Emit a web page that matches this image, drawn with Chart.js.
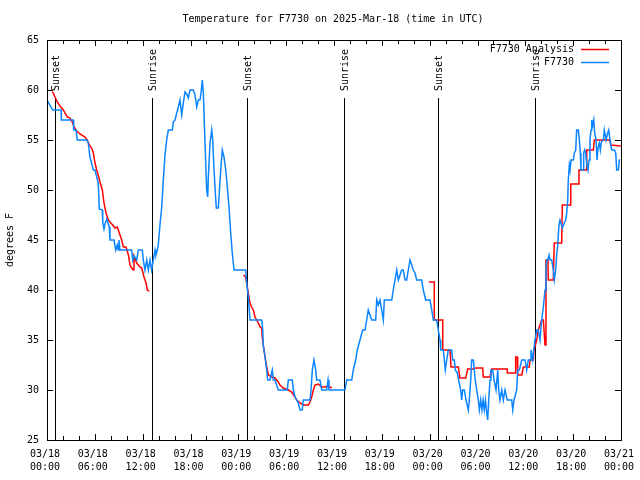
<!DOCTYPE html>
<html>
<head>
<meta charset="utf-8">
<script src="https://cdn.jsdelivr.net/npm/chart.js@4"></script>
<style>
  body { margin: 0; background: #fff; }
  canvas { display: block; }
</style>
</head>
<body>
<canvas id="tempChart" width="640" height="480"></canvas>
<script>
// hours after 03/18 00:00 UTC
const stationHours = [
  0, 0.71, 1.76, 1.8, 3.30, 3.35, 3.64, 3.80, 4.98, 5.18, 5.39, 5.81, 6.02, 6.43, 6.56, 6.94, 6.99, 7.15, 7.28, 7.49,
  7.81, 7.90, 8.40, 8.62, 8.82, 8.94, 9.03, 9.16, 10.62, 10.75, 10.91, 11.25, 11.45, 11.95, 12.08, 12.29, 12.51, 12.71, 12.92, 13.13,
  13.33, 13.55, 13.67, 13.84, 13.96, 14.17, 14.39, 14.59, 14.80, 15.01, 15.22, 15.72, 15.84, 16.06, 16.27, 16.47, 16.68, 16.90, 17.10, 17.31,
  17.52, 17.72, 17.94, 18.35, 18.56, 18.78, 18.98, 19.19, 19.32, 19.48, 19.61, 19.73, 19.91, 20.03, 20.16, 20.23, 20.45, 20.66, 20.79, 20.91,
  21.07, 21.24, 21.49, 21.61, 21.79, 21.99, 22.20, 22.42, 22.62, 22.83, 23.04, 23.24, 23.46, 24.92, 25.05, 25.25, 25.46, 26.93, 27.06, 27.13,
  27.35, 27.56, 27.68, 27.97, 28.26, 28.39, 28.60, 29.01, 30.14, 30.27, 30.77, 30.90, 31.11, 31.52, 31.74, 32.02, 32.15, 32.99, 33.12, 33.28,
  33.49, 33.71, 33.83, 34.24, 34.46, 35.09, 35.25, 35.37, 37.38, 37.59, 38.22, 38.42, 38.72, 38.92, 39.26, 39.60, 39.89, 40.10, 40.30, 40.73,
  41.23, 41.36, 41.56, 41.77, 41.98, 42.19, 42.31, 43.24, 43.44, 43.65, 43.87, 44.07, 44.49, 44.69, 44.91, 45.12, 45.32, 45.53, 45.75, 45.95,
  46.16, 46.37, 47.00, 47.20, 47.50, 48.04, 48.26, 48.46, 48.88, 49.08, 49.30, 49.39, 49.71, 49.84, 49.96, 50.14, 50.34, 50.76, 50.89, 51.09,
  51.22, 51.47, 51.64, 51.89, 52.02, 52.14, 52.35, 52.56, 52.85, 52.97, 53.15, 53.27, 53.47, 53.60, 53.72, 53.90, 54.10, 54.23, 54.40, 54.55,
  54.70, 54.85, 55.00, 55.16, 55.28, 55.41, 55.57, 55.69, 55.91, 56.07, 56.32, 56.54, 56.66, 56.82, 57.04, 57.24, 57.45, 57.74, 58.29, 58.42,
  58.58, 58.92, 59.04, 59.25, 59.55, 59.96, 60.17, 60.37, 60.59, 60.71, 60.93, 61.05, 61.21, 61.43, 61.63, 61.84, 62.05, 62.26, 62.47, 62.59,
  62.68, 62.81, 62.97, 63.10, 63.31, 63.51, 63.63, 63.81, 63.93, 64.06, 64.22, 64.35, 64.64, 64.89, 65.06, 65.19, 65.32, 65.39, 65.52, 65.61,
  65.73, 66.02, 66.15, 66.32, 66.44, 66.65, 66.77, 66.90, 66.98, 67.24, 67.32, 67.45, 67.57, 67.70, 67.86, 67.99, 68.11, 68.24, 68.33, 68.45,
  68.58, 68.70, 68.87, 68.99, 69.12, 69.28, 69.41, 69.53, 69.78, 69.91, 70.12, 70.33, 70.46, 70.62, 70.84, 71.17, 71.34, 71.46, 71.67, 71.79,
  71.88
];
const stationTemps = [
  59, 58, 58, 57, 57, 56, 56, 55, 55, 54.7, 53.3, 52, 52, 50.7, 48.1, 48, 46.8, 46.1, 46.6, 47.1,
  46.3, 45, 45, 44, 44.5, 44, 45, 44, 44, 43, 43.4, 43, 44, 44, 43, 42, 43, 42, 43, 42,
  43, 44, 43.5, 44, 44.5, 46.5, 48.3, 51, 53.5, 55, 56, 56, 56.8, 57, 57.7, 58.3, 59, 57.5, 58.7, 59.8,
  59.6, 59.2, 60, 60, 59.5, 58.3, 59, 59, 59.7, 61, 59.7, 56.8, 52.7, 50, 49.3, 51.2, 54.7, 56, 55, 52.7,
  50.3, 48.2, 48.2, 49.7, 52, 54, 53.3, 52, 50.3, 48.3, 45.7, 43.7, 42, 42, 40.7, 39.3, 37, 37, 36, 34.5,
  33.3, 32, 31, 31, 32, 31, 31, 30, 30, 31, 31, 30, 29.3, 28.7, 28, 28, 29, 29, 30, 32,
  33, 32, 31, 31, 30, 30, 31, 30, 30, 31, 31, 32, 33, 34, 35, 36, 36, 37, 38, 37,
  37, 39, 38.5, 39, 38, 37, 39, 39, 40, 41, 42, 41, 42, 42, 41, 41, 42, 43, 42.5, 42,
  41.7, 41, 41, 40, 39, 39, 38, 37, 37, 36, 35, 34, 34, 33, 32, 33, 34, 34, 33, 33,
  32, 31.7, 31, 30, 29, 30, 30, 29, 28, 29, 31, 33, 33, 32, 31, 30, 29, 28, 29, 28,
  29, 28, 29, 27.7, 27, 29, 31, 32, 32, 31, 30, 32, 30, 29, 30, 29, 30, 29, 29, 28,
  29, 30, 32, 32, 33, 33, 32, 33, 33, 34, 33, 34, 35, 36, 36, 35, 37, 38.3, 40, 42,
  43, 43, 43.5, 43, 43, 42, 41, 42, 43.5, 44.5, 46.5, 47, 46.2, 46.7, 47, 47.7, 49, 51, 52.5, 52,
  53, 53, 53.7, 54, 56, 56, 55, 53.7, 52, 52, 53.7, 54, 53.7, 52.6, 52, 53, 55, 56, 57, 56.5,
  57, 55.7, 55, 53, 54.2, 54.7, 54, 54.8, 55, 56, 55, 55.7, 56, 55, 54, 54, 53.7, 52, 52, 53,
  53
];

// null = no analysis
const analysisHours = [
  0.61, 0.79, 1.00, 1.29, 1.63, 2.05, 2.26, 2.55, 2.88, 3.17, 3.39, 3.72, 4.14, 4.77, 5.06, 5.31, 5.60, 5.81, 6.02, 6.23,
  6.43, 6.65, 6.94, 7.15, 7.40, 7.69, 7.90, 8.24, 8.53, 8.82, 9.03, 9.37, 9.58, 9.91, 10.21, 10.41, 10.62, 10.83, 10.91, 11.25,
  11.66, 11.88, 12.17, 12.42, 12.58, 12.83, 18,
  24.63, 24.92, 25.05, 25.25, 25.46, 25.67, 25.88, 26.09, 26.51, 26.72, 26.93, 27.00, 27.13, 27.35, 27.56, 27.77, 28.18, 28.60, 29.01, 29.22,
  29.64, 30.27, 30.69, 31.11, 31.32, 31.74, 32.15, 32.78, 32.99, 33.20, 33.41, 33.62, 34.03, 34.46, 34.87, 35.29, 35.50, 35.71, 40,
  47.92, 48.58, 48.58, 49.64, 49.64, 50.55, 50.68, 51.59, 51.80, 52.52, 52.77, 53.60, 53.70, 54.65, 54.73, 55.57, 55.78, 57.74, 57.74, 58.79,
  58.79, 58.99, 59.04, 59.55, 59.75, 60.50, 60.59, 61.00, 61.09, 61.43, 61.63, 62.05, 62.26, 62.47, 62.59, 62.84, 62.88, 63.51, 63.63, 64.56,
  64.64, 65.61, 65.70, 66.65, 66.73, 67.61, 67.70, 68.53, 68.66, 70.62, 70.71, 72
];
const analysisTemps = [
  59.8, 59.7, 59.3, 58.8, 58.4, 58, 57.7, 57.3, 57.2, 56.8, 56.3, 55.9, 55.6, 55.3, 55, 54.5, 54.2, 53.7, 52.7, 52,
  51.5, 50.8, 50, 48.7, 47.7, 47, 46.8, 46.5, 46.2, 46.3, 45.8, 45, 44.3, 44.3, 43.5, 42.5, 42.2, 42, 43.4, 42.7,
  42.3, 42.2, 41.3, 40.7, 40, 39.9, null,
  41.5, 41.3, 40.7, 39.7, 38.7, 38.3, 38, 37.3, 36.7, 36.3, 36.2, 35.3, 34.5, 33.3, 32.3, 31.5, 31.3, 31.2, 30.8, 30.5,
  30.2, 30, 29.8, 29.3, 29, 28.7, 28.5, 28.5, 28.8, 29.3, 30, 30.5, 30.6, 30.3, 30.3, 30.4, 30.3, 30.2, null,
  40.8, 40.8, 37, 37, 34, 34, 32.3, 32.3, 31.2, 31.2, 32.1, 32.1, 32.2, 32.2, 31.3, 31.3, 32.1, 32.1, 31.7, 31.7,
  33.3, 33.3, 31.5, 31.5, 32.3, 32.3, 33, 33, 34, 35, 36, 37, 37, 34.5, 43, 43, 41, 41, 44.7, 44.7,
  48.5, 48.5, 50.6, 50.6, 52, 52, 54, 54, 55, 55, 54.5, 54.4
];

const sunHours = [1.0, 13.13, 25.05, 37.2, 49.08, 61.15];
const sunLabels = ['Sunset', 'Sunrise', 'Sunset', 'Sunrise', 'Sunset', 'Sunrise'];

const FONT = '10px "DejaVu Sans Mono", "Liberation Mono", monospace';

function timeLabel(h) {
  const day = 18 + Math.floor(h / 24);
  const hh = h % 24;
  return ['03/' + day, (hh < 10 ? '0' : '') + hh + ':00'];
}

const frame = {
  id: 'frame',
  beforeDatasetsDraw(chart) {
    const ctx = chart.ctx;
    const a = chart.chartArea;
    const x = chart.scales.x, y = chart.scales.y;
    ctx.save();
    ctx.strokeStyle = '#000';
    ctx.lineWidth = 1;
    // sunrise / sunset markers
    const top = y.getPixelForValue(59.2);
    sunHours.forEach((h, i) => {
      const px = Math.round(x.getPixelForValue(h)) + 0.5;
      ctx.beginPath();
      ctx.moveTo(px, a.bottom);
      ctx.lineTo(px, top);
      ctx.stroke();
      ctx.save();
      ctx.translate(px + 1, top - 7);
      ctx.rotate(-Math.PI / 2);
      ctx.font = FONT;
      ctx.fillStyle = '#000';
      ctx.textAlign = 'left';
      ctx.textBaseline = 'middle';
      ctx.fillText(sunLabels[i], 0, 0);
      ctx.restore();
    });
    ctx.restore();
  },
  afterDraw(chart) {
    const ctx = chart.ctx;
    const a = chart.chartArea;
    const x = chart.scales.x, y = chart.scales.y;
    ctx.save();
    ctx.strokeStyle = '#000';
    ctx.lineWidth = 1;
    ctx.strokeRect(Math.round(a.left) + 0.5, Math.round(a.top) + 0.5,
      Math.round(a.right - a.left), Math.round(a.bottom - a.top));
    ctx.beginPath();
    x.ticks.forEach(t => {
      const px = Math.round(x.getPixelForValue(t.value)) + 0.5;
      const len = t.value % 6 === 0 ? 6 : 4;
      ctx.moveTo(px, a.bottom); ctx.lineTo(px, a.bottom - len);
      ctx.moveTo(px, a.top); ctx.lineTo(px, a.top + len);
    });
    y.ticks.forEach(t => {
      const py = Math.round(y.getPixelForValue(t.value)) + 0.5;
      ctx.moveTo(a.left, py); ctx.lineTo(a.left + 6, py);
      ctx.moveTo(a.right, py); ctx.lineTo(a.right - 6, py);
    });
    ctx.stroke();

    ctx.font = FONT;
    ctx.fillStyle = '#000';
    ctx.textBaseline = 'middle';
    ctx.textAlign = 'center';
    ctx.fillText('Temperature for F7730 on 2025-Mar-18 (time in UTC)', 333, 19);
    ctx.save();
    ctx.translate(10, 240);
    ctx.rotate(-Math.PI / 2);
    ctx.fillText('degrees F', 0, 0);
    ctx.restore();

    // legend
    const rows = [['F7730 Analysis', '#ff0000', 49.5], ['F7730', '#0a84ff', 62.5]];
    ctx.textAlign = 'right';
    rows.forEach(r => {
      ctx.fillStyle = '#000';
      ctx.fillText(r[0], 574, r[2]);
      ctx.strokeStyle = r[1];
      ctx.lineWidth = 1.5;
      ctx.beginPath();
      ctx.moveTo(581, r[2]);
      ctx.lineTo(609, r[2]);
      ctx.stroke();
    });
    ctx.restore();
  }
};

const ctx = document.getElementById('tempChart').getContext('2d');
new Chart(ctx, {
  type: 'line',
  data: {
    datasets: [{
      label: 'F7730 Analysis',
      data: analysisHours.map((h, i) => ({ x: h, y: analysisTemps[i] })),
      borderColor: '#ff0000',
      borderWidth: 1.5,
      pointRadius: 0,
      spanGaps: false,
      order: 2
    }, {
      label: 'F7730',
      data: stationHours.map((h, i) => ({ x: h, y: stationTemps[i] })),
      borderColor: '#0a84ff',
      borderWidth: 1.5,
      pointRadius: 0,
      order: 1
    }]
  },
  options: {
    responsive: false,
    animation: false,
    layout: { padding: { left: 0, top: 40, right: 19, bottom: 0 } },
    plugins: {
      legend: { display: false },
      tooltip: { enabled: false }
    },
    scales: {
      x: {
        type: 'linear',
        min: 0,
        max: 72,
        grid: { display: false, drawTicks: false },
        border: { display: false },
        afterFit: s => { s.height = 40; s.paddingLeft = 0; s.paddingRight = 0; },
        ticks: {
          stepSize: 2,
          autoSkip: false,
          maxRotation: 0,
          padding: 8,
          labelOffset: -2,
          color: '#000',
          font: { family: '"DejaVu Sans Mono", monospace', size: 10, lineHeight: 1.3 },
          callback: v => (v % 6 === 0 ? timeLabel(v) : '')
        }
      },
      y: {
        min: 25,
        max: 65,
        grid: { display: false, drawTicks: false },
        border: { display: false },
        afterFit: s => { s.width = 47; s.paddingTop = 0; s.paddingBottom = 0; },
        ticks: {
          stepSize: 5,
          padding: 8,
          color: '#000',
          font: { family: '"DejaVu Sans Mono", monospace', size: 10 }
        }
      }
    }
  },
  plugins: [frame]
});
</script>
</body>
</html>
